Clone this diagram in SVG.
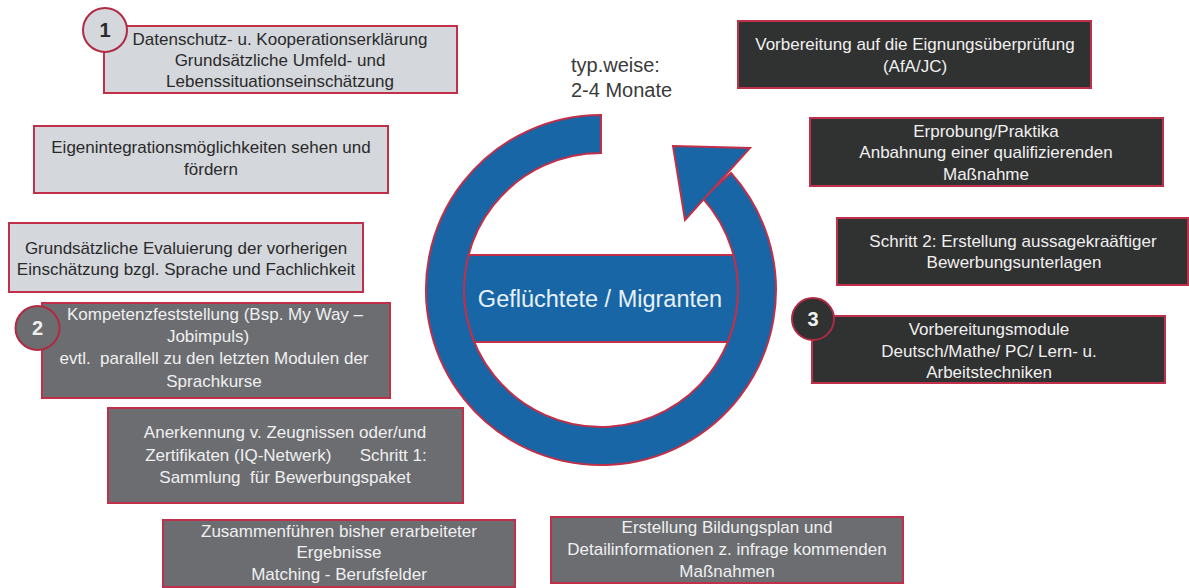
<svg xmlns="http://www.w3.org/2000/svg" width="1189" height="588" viewBox="0 0 1189 588">
<style>
text{font-family:"Liberation Sans",Arial,sans-serif;font-size:17px;text-anchor:middle}
.box{stroke:#c0304a;stroke-width:2}
.light{fill:#d4d7dc}
.mid{fill:#6b6d70}
.dark{fill:#303131}
.tl{fill:#2a2a2a}
.tw{fill:#f0f0f0}
.badge{stroke:#b02a44;stroke-width:2}
.num{font-size:20px;font-weight:bold}
.ring{fill:#1866a6;stroke:#c0304a;stroke-width:2;stroke-linejoin:miter}
</style>
<rect width="1189" height="588" fill="#ffffff"/>

<g id="cycle">
<path class="ring" d="M468.5 255 L733.5 255 A137 137 0 0 1 727.7 342 L474.3 342 A137 137 0 0 1 468.5 255 Z"/>
<path class="ring" d="M601 115 A175 175 0 1 0 731 172.9 L702.8 198.3 A137 137 0 1 1 601 153 Z"/>
<polygon class="ring" points="673,146 750,148 685,220"/>
<text x="600" y="307" style="font-size:23.5px;fill:#e8f1f8">Geflüchtete / Migranten</text>
</g>

<g id="duration">
<text x="571" y="72" style="font-size:20px;fill:#3a3a3a;text-anchor:start">typ.weise:</text>
<text x="571" y="97" style="font-size:20px;fill:#3a3a3a;text-anchor:start">2-4 Monate</text>
</g>

<g id="n1">
<rect class="box light" x="104" y="26" width="353" height="67"/>
<text class="tl" x="280" y="45">Datenschutz- u. Kooperationserklärung</text>
<text class="tl" x="280" y="66">Grundsätzliche Umfeld- und</text>
<text class="tl" x="280" y="87">Lebenssituationseinschätzung</text>
</g>
<g id="badge1">
<circle class="badge" cx="105" cy="30" r="22" fill="#d4d7dc"/>
<text class="num tl" x="105" y="37">1</text>
</g>

<g id="n2">
<rect class="box light" x="34" y="126" width="354" height="67"/>
<text class="tl" x="211" y="153">Eigenintegrationsmöglichkeiten sehen und</text>
<text class="tl" x="211" y="175">fördern</text>
</g>

<g id="n3">
<rect class="box light" x="9" y="223" width="354" height="69"/>
<text class="tl" x="186" y="254">Grundsätzliche Evaluierung der vorherigen</text>
<text class="tl" x="186" y="275">Einschätzung bzgl. Sprache und Fachlichkeit</text>
</g>

<g id="n4">
<rect class="box mid" x="42" y="303" width="348" height="95"/>
<text class="tw" x="215" y="320">Kompetenzfeststellung (Bsp. My Way –</text>
<text class="tw" x="208" y="342">Jobimpuls)</text>
<text class="tw" x="214" y="364" xml:space="preserve">evtl.  parallell zu den letzten Modulen der</text>
<text class="tw" x="214" y="387">Sprachkurse</text>
</g>
<g id="badge2">
<circle class="badge" cx="37.5" cy="328" r="22" fill="#6b6d70"/>
<text class="num tw" x="37.5" y="335">2</text>
</g>

<g id="n5">
<rect class="box mid" x="108" y="408" width="355" height="95"/>
<text class="tw" x="285" y="438">Anerkennung v. Zeugnissen oder/und</text>
<text class="tw" x="286" y="461" xml:space="preserve">Zertifikaten (IQ-Netwerk)      Schritt 1:</text>
<text class="tw" x="285" y="483" xml:space="preserve">Sammlung  für Bewerbungspaket</text>
</g>

<g id="n6">
<rect class="box mid" x="163" y="520" width="352" height="67"/>
<text class="tw" x="339" y="537">Zusammenführen bisher erarbeiteter</text>
<text class="tw" x="339" y="558">Ergebnisse</text>
<text class="tw" x="339" y="580">Matching - Berufsfelder</text>
</g>

<g id="n7">
<rect class="box mid" x="551" y="517" width="352" height="66"/>
<text class="tw" x="727" y="533">Erstellung Bildungsplan und</text>
<text class="tw" x="727" y="555">Detailinformationen z. infrage kommenden</text>
<text class="tw" x="727" y="577">Maßnahmen</text>
</g>

<g id="r1">
<rect class="box dark" x="738" y="21" width="353" height="67"/>
<text class="tw" x="915" y="50">Vorbereitung auf die Eignungsüberprüfung</text>
<text class="tw" x="915" y="72">(AfA/JC)</text>
</g>

<g id="r2">
<rect class="box dark" x="810" y="118" width="353" height="68"/>
<text class="tw" x="986" y="137">Erprobung/Praktika</text>
<text class="tw" x="986" y="158">Anbahnung einer qualifizierenden</text>
<text class="tw" x="986" y="180">Maßnahme</text>
</g>

<g id="r3">
<rect class="box dark" x="837" y="218" width="351" height="67"/>
<text class="tw" x="1013" y="247">Schritt 2: Erstellung aussagekraäftiger</text>
<text class="tw" x="1014" y="268">Bewerbungsunterlagen</text>
</g>

<g id="r4">
<rect class="box dark" x="812" y="316" width="353" height="67"/>
<text class="tw" x="989" y="335">Vorbereitungsmodule</text>
<text class="tw" x="989" y="357">Deutsch/Mathe/ PC/ Lern- u.</text>
<text class="tw" x="989" y="378">Arbeitstechniken</text>
</g>
<g id="badge3">
<circle class="badge" cx="813" cy="319" r="21" fill="#303131"/>
<text class="num tw" x="813" y="326">3</text>
</g>
</svg>
